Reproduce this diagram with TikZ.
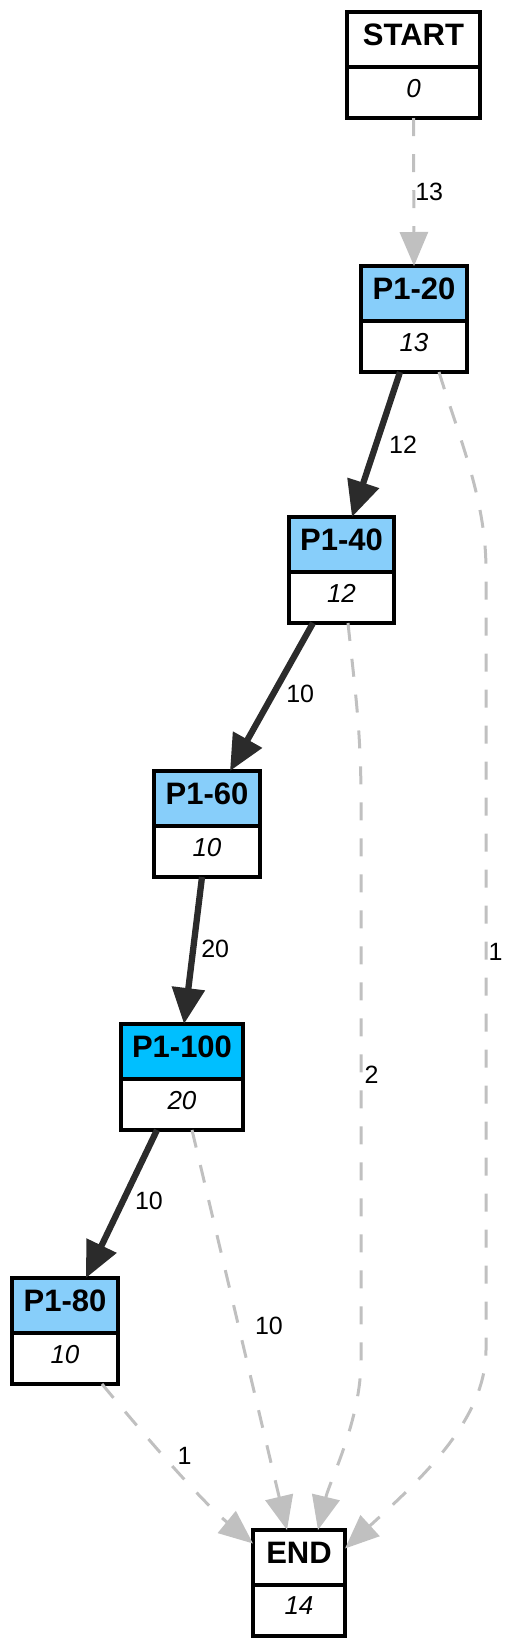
\documentclass[tikz,border=0pt]{standalone}
\usepackage{fontspec}
\setmainfont{Liberation Sans}
\usepackage{xcolor}
\usepackage{tikz}
\usetikzlibrary{arrows.meta}
\definecolor{lightsky}{HTML}{87CEFA}
\definecolor{deepsky}{HTML}{00BFFF}
\definecolor{flowgray}{HTML}{2B2B2B}
\definecolor{lossgray}{HTML}{C0C0C0}
\begin{document}
\begin{tikzpicture}[x=1pt,y=-1pt,
    head/.style={draw,line width=3.2pt,minimum height=55pt,inner sep=0pt,outer sep=0pt,anchor=north,
      text depth=9pt,font=\bfseries\fontsize{31}{31}\selectfont},
    cnt/.style={draw,line width=3.2pt,minimum height=51pt,inner sep=0pt,outer sep=0pt,anchor=north,
      text depth=9pt,font=\itshape\fontsize{26}{26}\selectfont},
    flow/.style={line width=6.3pt,color=flowgray,-{Triangle[length=36pt,width=32pt]}},
    loss/.style={line width=3pt,color=lossgray,dash pattern=on 18pt off 18pt,
      -{Triangle[length=34pt,width=28pt]}},
    lbl/.style={inner sep=0pt,text=black,font=\fontsize{25}{25}\selectfont}]
      \useasboundingbox (0,0) rectangle (516,1650);
      \foreach \nm/\cx/\ty/\w/\ttl/\cnum/\clr in {start/413.5/12/133/START/0/white,
          p20/414/266/106/P1-20/13/lightsky, p40/341.5/517/105/P1-40/12/lightsky,
          p60/207/771/106/P1-60/10/lightsky, p100/182/1024/122/P1-100/20/deepsky,
          p80/65/1278/106/P1-80/10/lightsky, fin/299/1530/92/END/14/white}{
        \node[head,fill=\clr,minimum width=\w pt] (\nm) at (\cx,\ty) {\ttl};
        \node[cnt,fill=white,minimum width=\w pt] (\nm-c) at (\nm.south) {\cnum};
      }
      \draw[loss] (start-c.south) -- (p20.north) node[lbl,midway,anchor=west] {13};
      \draw[flow] ([xshift=-14pt]p20-c.south) -- ([xshift=10.5pt]p40.north)
        node[lbl,pos=.5,anchor=west,xshift=10pt] {12};
      \draw[flow] ([xshift=-28.5pt]p40-c.south) -- ([xshift=23pt]p60.north)
        node[lbl,pos=.48,anchor=west,xshift=10pt] {10};
      \draw[flow] ([xshift=-5pt]p60-c.south) -- ([xshift=2pt]p100.north)
        node[lbl,pos=.49,anchor=west,xshift=5pt] {20};
      \draw[flow] ([xshift=-25pt]p100-c.south) -- ([xshift=21pt]p80.north)
        node[lbl,pos=.48,anchor=west,xshift=9pt] {10};
      \draw[loss] ([xshift=25pt]p20-c.south) .. controls (460,440) and (486,500) .. (486,570)
        -- (486,1350) node[lbl,pos=.49,anchor=west,xshift=1pt] {1}
        .. controls (486,1420) and (420,1480) .. ([yshift=9pt]fin.east);
      \draw[loss] ([xshift=6.5pt]p40-c.south) .. controls (355,690) and (361,730) .. (361,800)
        -- (361,1360) node[lbl,pos=.49,anchor=west,xshift=2pt] {2}
        .. controls (361,1420) and (330,1480) .. ([xshift=19pt]fin.north);
      \draw[loss] ([xshift=10pt]p100-c.south) -- ([xshift=-12pt]fin.north)
        node[lbl,pos=.49,anchor=west,xshift=15pt] {10};
      \draw[loss] ([xshift=37pt]p80-c.south) .. controls (140,1430) and (200,1500) .. ([yshift=14pt]fin.west)
        node[lbl,pos=.45,anchor=west,xshift=12pt] {1};
    \end{tikzpicture}
\end{document}
